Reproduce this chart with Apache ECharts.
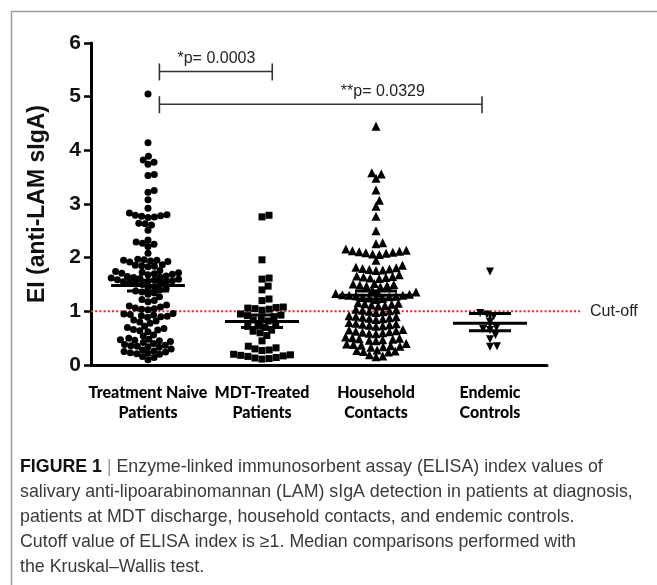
<!DOCTYPE html>
<html>
<head>
<meta charset="utf-8">
<script src="https://cdn.jsdelivr.net/npm/echarts@6/dist/echarts.min.js"></script>
<style>
html, body { margin: 0; padding: 0; background: #fff; }
#chart { width: 657px; height: 585px; }
</style>
</head>
<body>
<div id="chart"></div>
<script>
var categories = ['Treatment Naive\nPatients', 'MDT-Treated\nPatients', 'Household\nContacts', 'Endemic\nControls'];

var naive = [5.05, 4.14, 3.89, 3.82, 3.78, 3.74, 3.55, 3.53, 3.25, 3.22, 3.08, 2.92,
	2.83, 2.80, 2.79, 2.78, 2.77, 2.76, 2.75, 2.64, 2.63, 2.61, 2.51,
	2.33, 2.29, 2.27, 2.25, 2.21, 2.08,
	1.97, 1.96, 1.95, 1.95, 1.94, 1.93, 1.92, 1.87, 1.86, 1.85, 1.84, 1.83,
	1.76, 1.74, 1.73, 1.72, 1.71, 1.70, 1.69, 1.68, 1.66, 1.65, 1.64, 1.63, 1.62, 1.61, 1.60, 1.59,
	1.58, 1.57, 1.56, 1.55, 1.54, 1.53, 1.52, 1.51, 1.50,
	1.46, 1.44, 1.42, 1.40, 1.38, 1.36, 1.34, 1.32, 1.27, 1.22, 1.20, 1.18,
	1.12, 1.10, 1.08, 1.06, 1.05, 1.04, 1.03,
	0.96, 0.95, 0.94, 0.93, 0.92, 0.91, 0.90, 0.89, 0.84, 0.82, 0.80, 0.78,
	0.72, 0.70, 0.68, 0.66, 0.65, 0.64, 0.62,
	0.56, 0.54, 0.50, 0.48, 0.47, 0.46, 0.45, 0.44, 0.42,
	0.40, 0.38, 0.37, 0.36, 0.35, 0.34, 0.33,
	0.30, 0.28, 0.26, 0.25, 0.24, 0.23, 0.22, 0.21, 0.20,
	0.16, 0.14, 0.10];

var mdt = [2.79, 2.76, 1.96, 1.62, 1.60, 1.47, 1.40, 1.23, 1.20,
	1.08, 1.07, 1.06, 1.05, 1.04, 1.02, 0.95, 0.93, 0.92, 0.90,
	0.86, 0.84, 0.82, 0.76, 0.74, 0.72, 0.70, 0.65, 0.63, 0.60,
	0.55, 0.45, 0.35, 0.32, 0.30, 0.28, 0.27,
	0.20, 0.19, 0.18, 0.17, 0.16, 0.14, 0.13, 0.12, 0.11];

var household = [4.45, 3.58, 3.56, 3.48, 3.26, 3.07, 2.96, 2.77, 2.50,
	2.28, 2.26, 2.16, 2.14, 2.13, 2.12, 2.11, 2.10, 2.09, 2.08, 2.07, 2.06, 1.95,
	1.86, 1.82, 1.81, 1.80, 1.79, 1.78, 1.77, 1.76,
	1.68, 1.66, 1.65, 1.64, 1.63, 1.62, 1.61,
	1.52, 1.51, 1.50, 1.49, 1.48, 1.47, 1.46,
	1.40, 1.36, 1.34, 1.33, 1.32, 1.31, 1.30, 1.30, 1.29, 1.28, 1.27, 1.26, 1.25, 1.24, 1.22,
	1.16, 1.15, 1.14, 1.13, 1.12, 1.11, 1.10,
	1.04, 1.03, 1.02, 1.01, 1.00, 0.99, 0.98,
	0.92, 0.91, 0.90, 0.89, 0.88, 0.87, 0.86, 0.85,
	0.79, 0.78, 0.77, 0.76, 0.75, 0.74, 0.73, 0.72,
	0.66, 0.65, 0.64, 0.63, 0.62, 0.61, 0.60, 0.59, 0.58,
	0.52, 0.51, 0.50, 0.49, 0.48, 0.47, 0.46, 0.45,
	0.40, 0.39, 0.38, 0.37, 0.36, 0.35, 0.34, 0.33,
	0.28, 0.27, 0.26, 0.25, 0.24, 0.19, 0.17, 0.155];

var endemic = [1.74, 0.97, 0.94, 0.91, 0.80, 0.70, 0.67, 0.65, 0.56, 0.48, 0.35, 0.34];

// centre line and error bar per group
var centers = [1.48, 0.81, 1.30, 0.78];
var errLow = [1.38, 0.70, 1.23, 0.64];
var errHigh = [1.58, 0.93, 1.38, 0.96];

// significance brackets (x in group units, 0..4)
var bracketFrom = [0.6, 0.6];
var bracketTo = [1.59, 3.43];
var bracketY = [5.47, 4.86];
var bracketLabelX = [1.1, 2.56];
var bracketLabels = ['*p= 0.0003', '**p= 0.0329'];

var cutoff = 1;
var cutoffEnd = 4.29;

var captionLines = [
	'{b|FIGURE 1} {s||} Enzyme-linked immunosorbent assay (ELISA) index values of',
	'salivary anti-lipoarabinomannan (LAM) sIgA detection in patients at diagnosis,',
	'patients at MDT discharge, household contacts, and endemic controls.',
	'Cutoff value of ELISA index is \u22651. Median comparisons performed with',
	'the Kruskal\u2013Wallis test.'
];

var grid = { left: 91, top: 43, width: 456, height: 322 };
var pxPerY = grid.height / 6;
var pxPerX = grid.width / 4;

// beeswarm offsets in px, placed from low to high value
function swarm(values, d) {
	var order = values.map(function (v, i) { return i; });
	order.sort(function (a, b) { return values[a] - values[b]; });
	var placed = [];
	var offs = [];
	order.forEach(function (i) {
		var y = values[i] * pxPerY;
		var cands = [0];
		placed.forEach(function (p) {
			var dy = Math.abs(p.y - y);
			if (dy < d) {
				var dx = Math.sqrt(d * d - dy * dy);
				cands.push(p.x + dx, p.x - dx);
			}
		});
		cands.sort(function (a, b) { return Math.abs(a) - Math.abs(b); });
		var best = 0;
		for (var c = 0; c < cands.length; c++) {
			var ok = placed.every(function (p) {
				var dx = p.x - cands[c], dy = p.y - y;
				return dx * dx + dy * dy >= d * d - 0.01;
			});
			if (ok) { best = cands[c]; break; }
		}
		placed.push({ x: best, y: y });
		offs[i] = best;
	});
	return offs;
}

var groups = [naive, mdt, household, endemic];
var symbols = ['circle', 'rect', 'triangle', 'triangle'];
var sizes = [7, 7, 9, 8];
var rotates = [0, 0, 0, 180];
var spacing = [6.4, 7.2, 6.8, 7];

var series = groups.map(function (vals, g) {
	var offs = swarm(vals, spacing[g]);
	return {
		type: 'scatter',
		xAxisIndex: 1,
		symbol: symbols[g],
		symbolSize: sizes[g],
		symbolRotate: rotates[g],
		silent: true,
		itemStyle: { color: '#000', opacity: 1 },
		data: vals.map(function (v, i) { return [g + 0.5 + offs[i] / pxPerX, v]; })
	};
});

series.push({
	type: 'custom',
	xAxisIndex: 1,
	clip: false,
	z: 5,
	silent: true,
	data: centers.map(function (c, i) { return [i + 0.5, c, errLow[i], errHigh[i]]; }),
	renderItem: function (params, api) {
		var m = api.coord([api.value(0), api.value(1)]);
		var lo = api.coord([api.value(0), api.value(2)]);
		var hi = api.coord([api.value(0), api.value(3)]);
		var st = { stroke: '#000', lineWidth: 3 };
		return {
			type: 'group',
			children: [
				{ type: 'line', shape: { x1: m[0] - 37, y1: m[1], x2: m[0] + 37, y2: m[1] }, style: st },
				{ type: 'line', shape: { x1: lo[0], y1: lo[1], x2: hi[0], y2: hi[1] }, style: st },
				{ type: 'line', shape: { x1: lo[0] - 21, y1: lo[1], x2: lo[0] + 21, y2: lo[1] }, style: st },
				{ type: 'line', shape: { x1: hi[0] - 21, y1: hi[1], x2: hi[0] + 21, y2: hi[1] }, style: st }
			]
		};
	}
});

series.push({
	type: 'custom',
	xAxisIndex: 1,
	clip: false,
	silent: true,
	data: bracketY.map(function (y, i) { return [bracketFrom[i], bracketTo[i], y, bracketLabelX[i]]; }),
	renderItem: function (params, api) {
		var a = api.coord([api.value(0), api.value(2)]);
		var b = api.coord([api.value(1), api.value(2)]);
		var t = api.coord([api.value(3), api.value(2)]);
		var st = { stroke: '#333', lineWidth: 1.6 };
		return {
			type: 'group',
			children: [
				{ type: 'line', shape: { x1: a[0], y1: a[1], x2: b[0], y2: b[1] }, style: st },
				{ type: 'line', shape: { x1: a[0], y1: a[1] - 8, x2: a[0], y2: a[1] + 9 }, style: st },
				{ type: 'line', shape: { x1: b[0], y1: b[1] - 8, x2: b[0], y2: b[1] + 9 }, style: st },
				{
					type: 'text', x: t[0], y: t[1] - 13,
					style: {
						text: bracketLabels[params.dataIndex],
						font: '16px "Liberation Sans", Arial, sans-serif',
						fill: '#222', align: 'center', verticalAlign: 'middle'
					}
				}
			]
		};
	}
});

series.push({
	type: 'custom',
	xAxisIndex: 1,
	clip: false,
	silent: true,
	z: 1,
	data: [[0, cutoff, cutoffEnd]],
	renderItem: function (params, api) {
		var a = api.coord([api.value(0), api.value(1)]);
		var b = api.coord([api.value(2), api.value(1)]);
		return {
			type: 'group',
			children: [
				{
					type: 'line', shape: { x1: a[0], y1: a[1], x2: b[0], y2: b[1] },
					style: { stroke: '#e8262a', lineWidth: 2, lineDash: [2, 2.2] }
				},
				{
					type: 'text', x: b[0] + 10, y: b[1],
					style: {
						text: 'Cut-off', font: '16px "Liberation Sans", Arial, sans-serif',
						fill: '#222', align: 'left', verticalAlign: 'middle'
					}
				}
			]
		};
	}
});

var chart = echarts.init(document.getElementById('chart'));
chart.setOption({
	animation: false,
	grid: grid,
	xAxis: [
		{
			type: 'category',
			data: categories,
			axisLine: { lineStyle: { color: '#000', width: 3 } },
			axisTick: { alignWithLabel: true, length: 8, lineStyle: { color: '#000', width: 2.5 } },
			axisLabel: {
				interval: 0, margin: 18, color: '#000',
				fontFamily: 'Lato, "Open Sans", sans-serif',
				fontWeight: 900, fontSize: 16, lineHeight: 20
			}
		},
		{ type: 'value', min: 0, max: 4, show: false }
	],
	yAxis: {
		type: 'value',
		min: 0, max: 6, interval: 1,
		name: 'EI (anti-LAM sIgA)',
		nameLocation: 'middle',
		nameGap: 42,
		nameTextStyle: { color: '#111', fontFamily: '"Liberation Sans", Arial, sans-serif', fontWeight: 'bold', fontSize: 23 },
		axisLine: { show: true, lineStyle: { color: '#000', width: 3 } },
		axisTick: { show: true, length: 7, lineStyle: { color: '#000', width: 2.5 } },
		axisLabel: { margin: 10, color: '#111', fontFamily: '"Liberation Sans", Arial, sans-serif', fontWeight: 'bold', fontSize: 21 },
		splitLine: { show: false }
	},
	graphic: [
		{
			type: 'rect', left: 9, top: 9, silent: true,
			shape: { width: 700, height: 700 },
			style: { fill: 'none', stroke: '#9a9a9a', lineWidth: 1.5 }
		},
		{
			type: 'text', left: 20, top: 455, silent: true,
			style: {
				text: captionLines.join('\n'),
				font: '17.8px "Liberation Sans", Arial, sans-serif',
				fill: '#3a3a3a', lineHeight: 25,
				rich: {
					b: { fontWeight: 'bold', fill: '#111', fontSize: 17.8, fontFamily: '"Liberation Sans", Arial, sans-serif', lineHeight: 25 },
					s: { fill: '#999', fontSize: 17.8, lineHeight: 25 }
				}
			}
		}
	],
	series: series
});
</script>
</body>
</html>
